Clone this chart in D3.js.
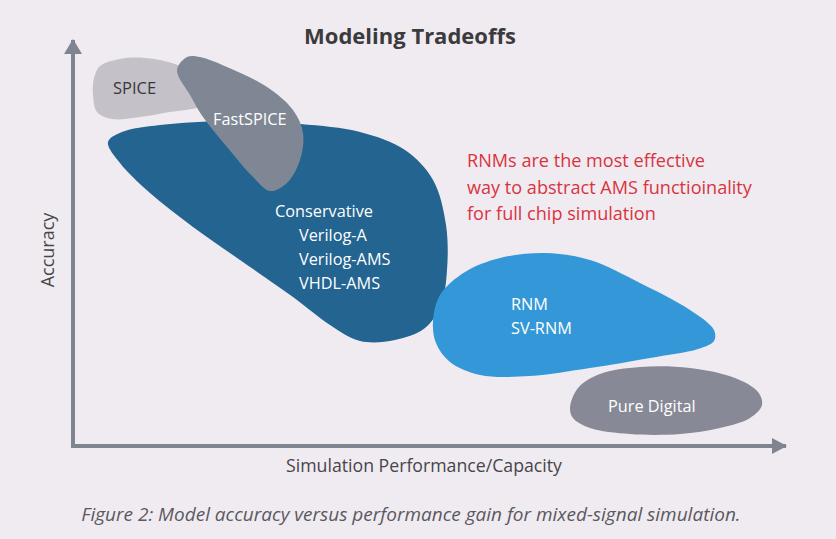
<!DOCTYPE html>
<html>
<head>
<meta charset="utf-8">
<script src="https://cdn.jsdelivr.net/npm/d3@7"></script>
<style>
  body { margin: 0; background: #f0ebf1; }
  text { font-family: "Open Sans", "Noto Sans", sans-serif; }
</style>
</head>
<body>
<svg id="chart" width="836" height="539"></svg>
<script>
/** Region outlines, in (performance, accuracy) units **/
var spiceShape = [[27,380],[47,387],[72,388],[102,382],[132,366],[139,346],[127,339],[97,334],[67,329],[39,327],[24,334],[20,351],[21,368]];
var fastSpiceShape = [[114,389],[127,389],[154,379],[194,359],[220,336],[230,313],[227,286],[214,263],[197,255],[180,269],[154,299],[130,329],[117,351],[104,376]];
var conservativeShape = [[35,304],[49,314],[87,321],[157,325],[227,322],[287,314],[332,296],[360,266],[373,221],[374,176],[368,141],[352,118],[322,106],[287,105],[257,121],[220,149],[167,186],[120,219],[77,253],[47,283]];
var rnmShape = [[360,124],[367,151],[392,174],[427,188],[472,193],[517,186],[567,163],[617,136],[641,116],[641,105],[625,97],[577,88],[517,78],[457,70],[407,71],[377,84],[363,103]];
var pureDigitalShape = [[497,38],[505,58],[527,72],[567,79],[617,78],[662,68],[685,54],[689,41],[677,28],[647,18],[607,12],[557,12],[517,18],[500,28]];

/** Texts **/
var titleText = "Modeling Tradeoffs";
var xLabel = "Simulation Performance/Capacity";
var yLabel = "Accuracy";
var captionText = "Figure 2: Model accuracy versus performance gain for mixed-signal simulation.";
var conservativeLines = ["Conservative", "Verilog-A", "Verilog-AMS", "VHDL-AMS"];
var rnmLines = ["RNM", "SV-RNM"];
var noteLines = ["RNMs are the most effective", "way to abstract AMS functioinality", "for full chip simulation"];

var svg = d3.select("#chart");
svg.append("rect").attr("width", 836).attr("height", 539).attr("fill", "#f0ebf1");

/** Scales **/
var x = d3.scaleLinear().domain([0, 700]).range([73, 773]);
var y = d3.scaleLinear().domain([0, 400]).range([446, 46]);

var blob = d3.line()
    .x(function(d){ return x(d[0]); })
    .y(function(d){ return y(d[1]); })
    .curve(d3.curveCatmullRomClosed.alpha(0.5));

/** Draw the regions, back to front **/
var regions = [
    {shape: spiceShape, color: "#c4c2c8"},
    {shape: conservativeShape, color: "#236491"},
    {shape: fastSpiceShape, color: "#7f8795"},
    {shape: rnmShape, color: "#3498d8"},
    {shape: pureDigitalShape, color: "#878a96"}
];
svg.selectAll("path.region")
    .data(regions)
    .enter().append("path")
    .attr("class", "region")
    .attr("d", function(d){ return blob(d.shape); })
    .attr("fill", function(d){ return d.color; });

/** Axes with arrow heads **/
var axisColor = "#7e8591";
svg.append("path")
    .attr("d", "M" + x(0) + "," + y(406) + "L" + x(0) + "," + y(0) + "L" + x(713) + "," + y(0))
    .attr("fill", "none")
    .attr("stroke", axisColor)
    .attr("stroke-width", 4)
    .attr("stroke-linejoin", "miter");
svg.append("path")
    .attr("d", "M" + x(0) + "," + (y(406) - 1) + "L" + (x(0) + 9) + "," + (y(406) + 14) + "L" + (x(0) - 9) + "," + (y(406) + 14) + "Z")
    .attr("fill", axisColor);
svg.append("path")
    .attr("d", "M" + (x(713) + 1) + "," + y(0) + "L" + (x(713) - 14) + "," + (y(0) - 8) + "L" + (x(713) - 14) + "," + (y(0) + 8) + "Z")
    .attr("fill", axisColor);

/** Title and axis labels **/
svg.append("text")
    .text(titleText)
    .attr("x", 410).attr("y", 44)
    .style("font-size", "22px")
    .style("font-weight", "bold")
    .style("text-anchor", "middle")
    .style("fill", "#3b3a3d");
svg.append("text")
    .text(xLabel)
    .attr("x", 424).attr("y", 472)
    .style("font-size", "17.7px")
    .style("text-anchor", "middle")
    .style("fill", "#46454a");
svg.append("text")
    .text(yLabel)
    .attr("transform", "translate(54,250) rotate(-90)")
    .style("font-size", "18px")
    .style("text-anchor", "middle")
    .style("fill", "#46454a");
svg.append("text")
    .text(captionText)
    .attr("x", 411).attr("y", 521)
    .style("font-size", "19px")
    .style("font-style", "italic")
    .style("text-anchor", "middle")
    .style("fill", "#5a595e");

/** Region labels **/
svg.append("text").text("SPICE")
    .attr("x", x(40)).attr("y", y(352))
    .style("font-size", "16.5px").style("fill", "#37363a");
svg.append("text").text("FastSPICE")
    .attr("x", x(140)).attr("y", y(321))
    .style("font-size", "16.3px").style("fill", "#ffffff");
svg.selectAll("text.cons")
    .data(conservativeLines)
    .enter().append("text")
    .attr("class", "cons")
    .text(function(d){ return d; })
    .attr("x", function(d, i){ return i === 0 ? x(202) : x(226); })
    .attr("y", function(d, i){ return y(229) + i * 24; })
    .style("font-size", "16.3px").style("fill", "#ffffff");
svg.selectAll("text.rnm")
    .data(rnmLines)
    .enter().append("text")
    .attr("class", "rnm")
    .text(function(d){ return d; })
    .attr("x", x(438))
    .attr("y", function(d, i){ return y(136) + i * 24; })
    .style("font-size", "16.3px").style("fill", "#ffffff");
svg.append("text").text("Pure Digital")
    .attr("x", x(535)).attr("y", y(34))
    .style("font-size", "16.3px").style("fill", "#ffffff");

/** Red note **/
svg.selectAll("text.note")
    .data(noteLines)
    .enter().append("text")
    .attr("class", "note")
    .text(function(d){ return d; })
    .attr("x", x(394))
    .attr("y", function(d, i){ return y(279) + i * 26.5; })
    .style("font-size", "18.1px").style("fill", "#d8343f");
</script>
</body>
</html>
